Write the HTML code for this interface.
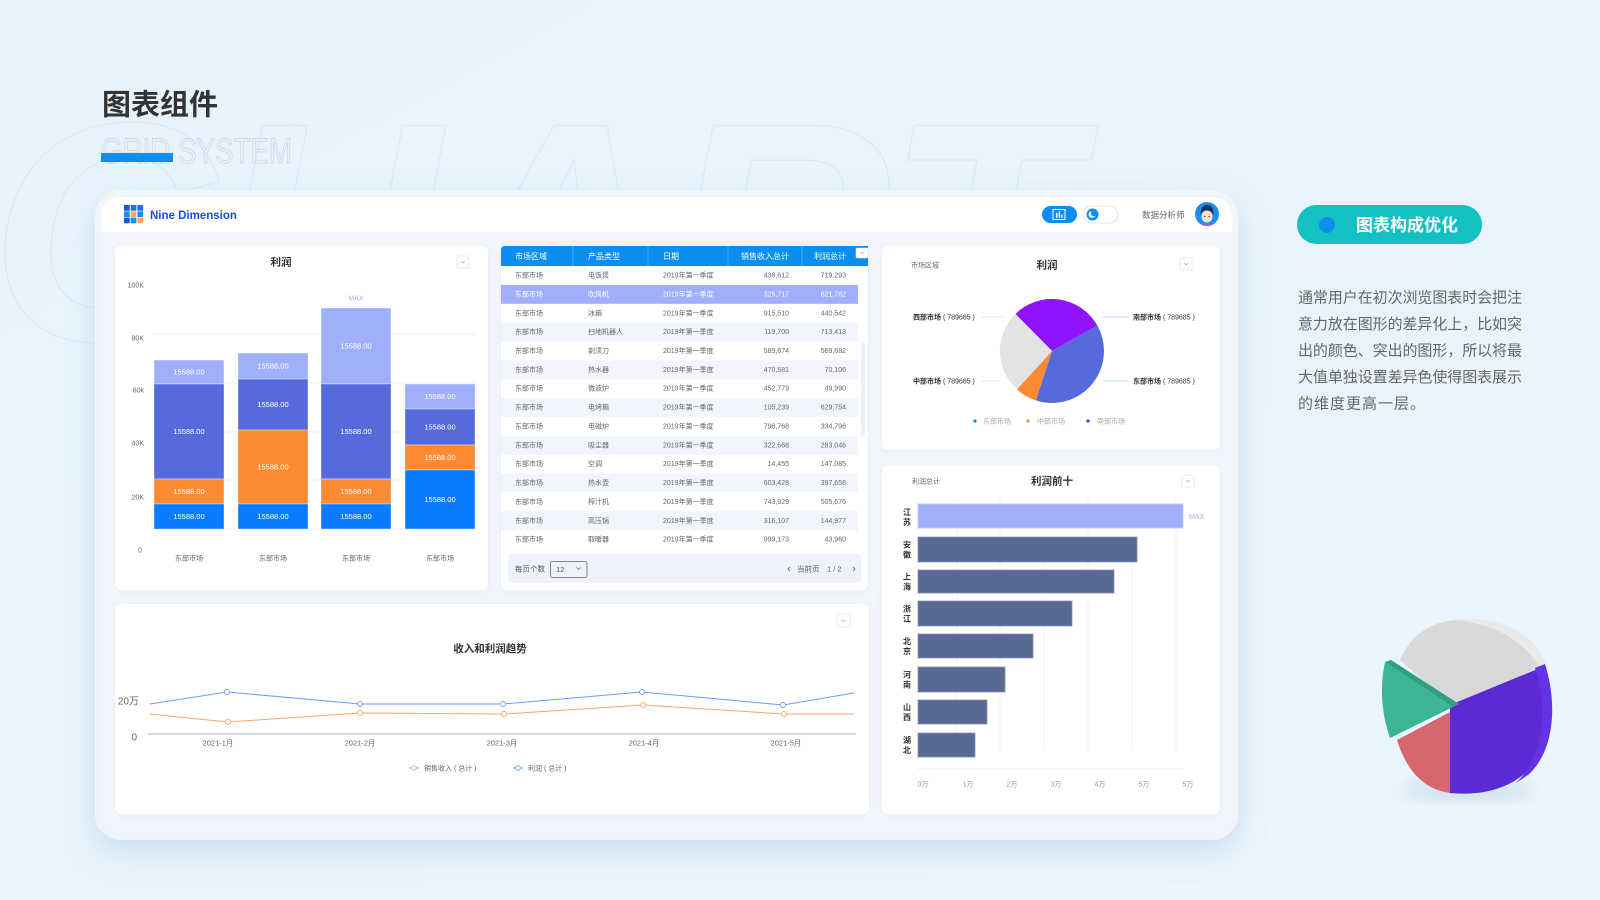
<!DOCTYPE html>
<html lang="zh">
<head>
<meta charset="utf-8">
<style>
html,body{margin:0;padding:0;width:1600px;height:900px;overflow:hidden;background:#e7f3fd;}
svg{display:block;}
text{font-family:"Liberation Sans","Noto Sans CJK SC",sans-serif;}
</style>
</head>
<body>
<svg width="1600" height="900" viewBox="0 0 1600 900" xmlns="http://www.w3.org/2000/svg">
<defs>
  <linearGradient id="bg" x1="0" y1="0" x2="1" y2="1">
    <stop offset="0" stop-color="#e6f3fd"/>
    <stop offset="1" stop-color="#eaf5fd"/>
  </linearGradient>
  <filter id="fs" x="-10%" y="-10%" width="120%" height="130%">
    <feDropShadow dx="0" dy="12" stdDeviation="14" flood-color="#7fa7cc" flood-opacity="0.28"/>
  </filter>
  <filter id="cs" x="-5%" y="-5%" width="110%" height="115%">
    <feDropShadow dx="0" dy="1" stdDeviation="3" flood-color="#8da4c8" flood-opacity="0.14"/>
  </filter>
  <filter id="blur8"><feGaussianBlur stdDeviation="8"/></filter>
  <clipPath id="avc"><circle cx="1207" cy="214" r="12"/></clipPath>
</defs>

<!-- background -->
<rect x="0" y="0" width="1600" height="900" fill="url(#bg)"/>
<text x="-10" y="340" font-size="312" font-weight="bold" font-style="italic" fill="none" stroke="#d6e6f3" stroke-width="1.2" opacity="0.8">CHART</text>

<!-- title -->
<text x="102" y="114.5" font-size="29" font-weight="bold" fill="#333">图表组件</text>
<text x="101" y="163" font-size="35" textLength="191" lengthAdjust="spacingAndGlyphs" fill="none" stroke="#cdd9e6" stroke-width="0.9">GRID SYSTEM</text>
<rect x="101" y="153" width="72" height="9" fill="#0a8ff0"/>

<!-- dashboard frame -->
<rect x="95" y="190" width="1143" height="650" rx="26" fill="#eef5fc" filter="url(#fs)"/>
<rect x="95" y="190" width="1143" height="650" rx="26" fill="#f0f5fc"/>
<rect x="101" y="197" width="1131" height="636" rx="20" fill="#f3f6fc"/>
<rect x="101" y="197" width="1131" height="35" rx="20" fill="#fff"/>
<rect x="101" y="214" width="1131" height="18" fill="#fff"/>

<!-- header: logo -->
<rect x="124" y="205" width="5.7" height="5.7" fill="#1a55d8"/>
<rect x="130.7" y="205" width="5.7" height="5.7" fill="#1a73e8"/>
<rect x="137.4" y="205" width="5.7" height="5.7" fill="#1a73e8"/>
<rect x="124" y="211.3" width="5.7" height="5.7" fill="#1a8ff0"/>
<rect x="130.7" y="211.3" width="5.7" height="5.7" fill="#f7a760"/>
<rect x="137.4" y="211.3" width="5.7" height="5.7" fill="#1a8ff0"/>
<rect x="124" y="217.6" width="5.7" height="5.7" fill="#1a55d8"/>
<rect x="130.7" y="217.6" width="5.7" height="5.7" fill="#1a8ff0"/>
<rect x="137.4" y="217.6" width="5.7" height="5.7" fill="#f7a760"/>
<text x="150" y="219" font-size="11.5" font-weight="bold" fill="#1a4fd6">Nine Dimension</text>

<!-- header: right -->
<rect x="1042" y="206" width="35" height="17" rx="8.5" fill="#0a8ff0"/>
<rect x="1053" y="209.5" width="12" height="10" fill="none" stroke="#fff" stroke-width="1"/>
<rect x="1056" y="213" width="1.3" height="5" fill="#fff"/>
<rect x="1058.6" y="211.5" width="1.3" height="6.5" fill="#fff"/>
<rect x="1061.2" y="214.5" width="1.3" height="3.5" fill="#fff"/>
<rect x="1083" y="206" width="35" height="17" rx="8.5" fill="#fff" stroke="#dcdcdc" stroke-width="0.8"/>
<circle cx="1092.5" cy="214.5" r="6" fill="#0a8ff0"/>
<circle cx="1092" cy="214.5" r="3.4" fill="#fff"/>
<circle cx="1093.8" cy="213.3" r="3" fill="#0a8ff0"/>
<text x="1142" y="218" font-size="8.5" fill="#666">数据分析师</text>
<circle cx="1207" cy="214" r="12" fill="#1c8ef0"/>
<g clip-path="url(#avc)">
  <rect x="1199" y="223" width="16" height="6" rx="3" fill="#8b5cf6"/>
  <ellipse cx="1207" cy="216.5" rx="5.5" ry="6" fill="#fde0d0"/>
  <path d="M1200.5,215 Q1200.5,205 1207,205 Q1214,205 1213.5,215 Q1211,209.5 1205,210.5 Q1202,211 1200.5,215 Z" fill="#1d2f55"/>
  <circle cx="1204.8" cy="216.5" r="0.7" fill="#333"/>
  <circle cx="1209.2" cy="216.5" r="0.7" fill="#333"/>
</g>

<!-- ================= Bar card ================= -->
<rect x="115" y="246" width="373" height="344" rx="6" fill="#fff" filter="url(#cs)"/>
<text x="281" y="265.7" font-size="10.5" font-weight="bold" fill="#333" text-anchor="middle">利润</text>
<rect x="457" y="256" width="12" height="12" rx="2" fill="#fff" stroke="#e6e6e6" stroke-width="0.8"/>
<path d="M461,261 L463,263 L465,261" fill="none" stroke="#aaa" stroke-width="0.7"/>
<g stroke="#f2f2f2" stroke-width="1">
  <line x1="154" y1="334" x2="476" y2="334"/>
  <line x1="154" y1="383" x2="476" y2="383"/>
  <line x1="154" y1="432" x2="476" y2="432"/>
  <line x1="154" y1="480" x2="476" y2="480"/>
  <line x1="154" y1="529" x2="476" y2="529"/>
</g>
<g font-size="7" fill="#666" text-anchor="end">
  <text x="144" y="287.5">100K</text>
  <text x="144" y="340.5">80K</text>
  <text x="144" y="392.5">60k</text>
  <text x="144" y="445.5">40K</text>
  <text x="144" y="499.5">20K</text>
  <text x="142" y="552.5">0</text>
</g>
<g stroke="#ffffff" stroke-opacity="0.45" stroke-width="0.8">
  <rect x="154" y="360" width="70" height="24" fill="#a0affc"/>
  <rect x="154" y="384" width="70" height="95" fill="#566bdb"/>
  <rect x="154" y="479" width="70" height="25" fill="#fa8b33"/>
  <rect x="154" y="504" width="70" height="25" fill="#0a7bff"/>
  <rect x="238" y="353" width="70" height="26" fill="#a0affc"/>
  <rect x="238" y="379" width="70" height="51" fill="#566bdb"/>
  <rect x="238" y="430" width="70" height="74" fill="#fa8b33"/>
  <rect x="238" y="504" width="70" height="25" fill="#0a7bff"/>
  <rect x="321" y="308" width="70" height="76" fill="#a0affc"/>
  <rect x="321" y="384" width="70" height="95" fill="#566bdb"/>
  <rect x="321" y="479" width="70" height="25" fill="#fa8b33"/>
  <rect x="321" y="504" width="70" height="25" fill="#0a7bff"/>
  <rect x="405" y="384" width="70" height="25" fill="#a0affc"/>
  <rect x="405" y="409" width="70" height="36" fill="#566bdb"/>
  <rect x="405" y="445" width="70" height="25" fill="#fa8b33"/>
  <rect x="405" y="470" width="70" height="59" fill="#0a7bff"/>
</g>
<g font-size="7.5" fill="#fff" text-anchor="middle">
  <text x="189" y="374.6">15588.00</text>
  <text x="189" y="434.1">15588.00</text>
  <text x="189" y="494.1">15588.00</text>
  <text x="189" y="519.1">15588.00</text>
  <text x="273" y="368.6">15588.00</text>
  <text x="273" y="407.1">15588.00</text>
  <text x="273" y="469.6">15588.00</text>
  <text x="273" y="519.1">15588.00</text>
  <text x="356" y="348.6">15588.00</text>
  <text x="356" y="434.1">15588.00</text>
  <text x="356" y="494.1">15588.00</text>
  <text x="356" y="519.1">15588.00</text>
  <text x="440" y="399.1">15588.00</text>
  <text x="440" y="429.6">15588.00</text>
  <text x="440" y="460.1">15588.00</text>
  <text x="440" y="502.1">15588.00</text>
</g>
<text x="356" y="300.5" font-size="7" fill="#a0affc" text-anchor="middle">MAX</text>
<g font-size="7" fill="#666" text-anchor="middle">
  <text x="189" y="560.5">东部市场</text>
  <text x="273" y="560.5">东部市场</text>
  <text x="356" y="560.5">东部市场</text>
  <text x="440" y="560.5">东部市场</text>
</g>

<!-- ================= Table card ================= -->
<rect x="501" y="246" width="367" height="344" rx="6" fill="#fff" filter="url(#cs)"/>
<path d="M501,250 Q501,246 505,246 L868,246 L868,266 L501,266 Z" fill="#0a8ff0"/>
<g stroke="#ffffff" stroke-opacity="0.35" stroke-width="0.8">
  <line x1="573" y1="246" x2="573" y2="266"/>
  <line x1="648" y1="246" x2="648" y2="266"/>
  <line x1="728" y1="246" x2="728" y2="266"/>
  <line x1="802" y1="246" x2="802" y2="266"/>
</g>
<g font-size="8" fill="#fff">
  <text x="515" y="258.8">市场区域</text>
  <text x="588" y="258.8">产品类型</text>
  <text x="663" y="258.8">日期</text>
  <text x="789" y="258.8" text-anchor="end">销售收入总计</text>
  <text x="846" y="258.8" text-anchor="end">利润总计</text>
</g>
<rect x="856" y="248" width="12" height="10" rx="1.5" fill="#fff" stroke="#e6e6e6" stroke-width="0.6"/>
<path d="M860,252 L862,254 L864,252" fill="none" stroke="#aaa" stroke-width="0.6"/>

<rect x="501" y="284.9" width="357" height="18.9" fill="#a0aefc"/>
<rect x="501" y="322.6" width="357" height="18.9" fill="#f2f5fe"/>
<rect x="501" y="360.4" width="357" height="18.9" fill="#f2f5fe"/>
<rect x="501" y="398.1" width="357" height="18.9" fill="#f2f5fe"/>
<rect x="501" y="435.8" width="357" height="18.9" fill="#f2f5fe"/>
<rect x="501" y="473.6" width="357" height="18.9" fill="#f2f5fe"/>
<rect x="501" y="511.3" width="357" height="18.9" fill="#f2f5fe"/>
<rect x="861" y="342" width="4" height="95" rx="2" fill="#eceff4"/>

<g font-size="7" fill="#666">
  <text x="515" y="277.5">东部市场</text><text x="588" y="277.5">电饭煲</text><text x="663" y="277.5">2019年第一季度</text><text x="789" y="277.5" text-anchor="end">438,612</text><text x="846" y="277.5" text-anchor="end">719,293</text>
  <g fill="#fff"><text x="515" y="296.4">东部市场</text><text x="588" y="296.4">吹风机</text><text x="663" y="296.4">2019年第一季度</text><text x="789" y="296.4" text-anchor="end">325,717</text><text x="846" y="296.4" text-anchor="end">821,782</text></g>
  <text x="515" y="315.3">东部市场</text><text x="588" y="315.3">冰箱</text><text x="663" y="315.3">2019年第一季度</text><text x="789" y="315.3" text-anchor="end">915,510</text><text x="846" y="315.3" text-anchor="end">440,542</text>
  <text x="515" y="334.1">东部市场</text><text x="588" y="334.1">扫地机器人</text><text x="663" y="334.1">2019年第一季度</text><text x="789" y="334.1" text-anchor="end">119,700</text><text x="846" y="334.1" text-anchor="end">713,413</text>
  <text x="515" y="353.0">东部市场</text><text x="588" y="353.0">剃须刀</text><text x="663" y="353.0">2019年第一季度</text><text x="789" y="353.0" text-anchor="end">589,674</text><text x="846" y="353.0" text-anchor="end">569,682</text>
  <text x="515" y="371.9">东部市场</text><text x="588" y="371.9">热水器</text><text x="663" y="371.9">2019年第一季度</text><text x="789" y="371.9" text-anchor="end">470,581</text><text x="846" y="371.9" text-anchor="end">70,106</text>
  <text x="515" y="390.7">东部市场</text><text x="588" y="390.7">微波炉</text><text x="663" y="390.7">2019年第一季度</text><text x="789" y="390.7" text-anchor="end">452,779</text><text x="846" y="390.7" text-anchor="end">49,990</text>
  <text x="515" y="409.6">东部市场</text><text x="588" y="409.6">电烤箱</text><text x="663" y="409.6">2019年第一季度</text><text x="789" y="409.6" text-anchor="end">105,239</text><text x="846" y="409.6" text-anchor="end">629,754</text>
  <text x="515" y="428.5">东部市场</text><text x="588" y="428.5">电磁炉</text><text x="663" y="428.5">2019年第一季度</text><text x="789" y="428.5" text-anchor="end">796,768</text><text x="846" y="428.5" text-anchor="end">334,796</text>
  <text x="515" y="447.4">东部市场</text><text x="588" y="447.4">吸尘器</text><text x="663" y="447.4">2019年第一季度</text><text x="789" y="447.4" text-anchor="end">322,668</text><text x="846" y="447.4" text-anchor="end">283,046</text>
  <text x="515" y="466.2">东部市场</text><text x="588" y="466.2">空调</text><text x="663" y="466.2">2019年第一季度</text><text x="789" y="466.2" text-anchor="end">14,455</text><text x="846" y="466.2" text-anchor="end">147,085</text>
  <text x="515" y="485.1">东部市场</text><text x="588" y="485.1">热水壶</text><text x="663" y="485.1">2019年第一季度</text><text x="789" y="485.1" text-anchor="end">603,428</text><text x="846" y="485.1" text-anchor="end">397,658</text>
  <text x="515" y="504.0">东部市场</text><text x="588" y="504.0">榨汁机</text><text x="663" y="504.0">2019年第一季度</text><text x="789" y="504.0" text-anchor="end">743,929</text><text x="846" y="504.0" text-anchor="end">505,676</text>
  <text x="515" y="522.8">东部市场</text><text x="588" y="522.8">高压锅</text><text x="663" y="522.8">2019年第一季度</text><text x="789" y="522.8" text-anchor="end">316,107</text><text x="846" y="522.8" text-anchor="end">144,977</text>
  <text x="515" y="541.7">东部市场</text><text x="588" y="541.7">取暖器</text><text x="663" y="541.7">2019年第一季度</text><text x="789" y="541.7" text-anchor="end">999,173</text><text x="846" y="541.7" text-anchor="end">43,960</text>
</g>
<rect x="508" y="554" width="353" height="29" rx="4" fill="#eef2fd"/>
<text x="515" y="571.6" font-size="7.5" fill="#555">每页个数</text>
<rect x="550.5" y="561.5" width="36.5" height="16" rx="2" fill="none" stroke="#666" stroke-width="0.8"/>
<text x="556" y="572" font-size="7.5" fill="#555">12</text>
<path d="M576.5,567.5 L578.5,569.5 L580.5,567.5" fill="none" stroke="#666" stroke-width="0.7"/>
<path d="M790,567 L788,569 L790,571" fill="none" stroke="#666" stroke-width="0.8"/>
<text x="797" y="571.6" font-size="7.5" fill="#555">当前页</text>
<text x="827" y="571.6" font-size="7.5" fill="#555">1 / 2</text>
<path d="M853,567 L855,569 L853,571" fill="none" stroke="#666" stroke-width="0.8"/>

<!-- ================= Pie card ================= -->
<rect x="882" y="246" width="338" height="204" rx="6" fill="#fff" filter="url(#cs)"/>
<text x="911" y="267.5" font-size="7" fill="#666">市场区域</text>
<text x="1047" y="268.7" font-size="10.5" font-weight="bold" fill="#333" text-anchor="middle">利润</text>
<rect x="1180" y="258" width="12" height="12" rx="2" fill="#fff" stroke="#e6e6e6" stroke-width="0.8"/>
<path d="M1184,263 L1186,265 L1188,263" fill="none" stroke="#aaa" stroke-width="0.7"/>
<path d="M1052,351 L1015.4,314.0 A52,52 0 0 1 1097.3,325.5 Z" fill="#9013fe"/>
<path d="M1052,351 L1097.3,325.5 A52,52 0 0 1 1035.8,400.4 Z" fill="#566bdb"/>
<path d="M1052,351 L1035.8,400.4 A52,52 0 0 1 1016.9,389.4 Z" fill="#fa8b33"/>
<path d="M1052,351 L1016.9,389.4 A52,52 0 0 1 1015.4,314.0 Z" fill="#e3e3e3"/>
<g stroke-width="1">
  <line x1="982" y1="317" x2="1003" y2="317" stroke="#e6e6e6"/>
  <line x1="982" y1="381" x2="1000" y2="381" stroke="#e6e6e6"/>
  <line x1="1103" y1="317" x2="1129" y2="317" stroke="#dcb8fd"/>
  <line x1="1103" y1="381" x2="1129" y2="381" stroke="#b9dcf8"/>
</g>
<g font-size="7" fill="#333">
  <text x="913" y="319.5"><tspan font-weight="bold">西部市场</tspan> ( 789685 )</text>
  <text x="913" y="383.5"><tspan font-weight="bold">中部市场</tspan> ( 789685 )</text>
  <text x="1133" y="319.5"><tspan font-weight="bold">南部市场</tspan> ( 789685 )</text>
  <text x="1133" y="383.5"><tspan font-weight="bold">东部市场</tspan> ( 789685 )</text>
</g>
<circle cx="975" cy="421" r="1.6" fill="#1677ff"/>
<circle cx="1028" cy="421" r="1.6" fill="#fa8b33"/>
<circle cx="1088" cy="421" r="1.6" fill="#9013fe"/>
<g font-size="7" fill="#aaa">
  <text x="983" y="423.5">东部市场</text>
  <text x="1037" y="423.5">中部市场</text>
  <text x="1097" y="423.5">南部市场</text>
</g>

<!-- ================= Top10 card ================= -->
<rect x="882" y="465" width="338" height="349" rx="6" fill="#fff" filter="url(#cs)"/>
<text x="912" y="483.5" font-size="7" fill="#666">利润总计</text>
<text x="1052" y="484.7" font-size="10.5" font-weight="bold" fill="#333" text-anchor="middle">利润前十</text>
<rect x="1182" y="475" width="12" height="12" rx="2" fill="#fff" stroke="#e6e6e6" stroke-width="0.8"/>
<path d="M1186,480 L1188,482 L1190,480" fill="none" stroke="#aaa" stroke-width="0.7"/>
<g stroke="#f3f3f3" stroke-width="1">
  <line x1="957" y1="497" x2="957" y2="750"/>
  <line x1="1000" y1="497" x2="1000" y2="750"/>
  <line x1="1044" y1="497" x2="1044" y2="750"/>
  <line x1="1088" y1="497" x2="1088" y2="750"/>
  <line x1="1132" y1="497" x2="1132" y2="750"/>
  <line x1="1176" y1="497" x2="1176" y2="750"/>
</g>
<line x1="918" y1="769" x2="1183" y2="769" stroke="#eeeeee" stroke-width="1"/>
<rect x="918" y="504" width="265" height="24" fill="#a0affc" stroke="#c2ccfd" stroke-width="0.8"/>
<g fill="#586a93" stroke="#8494b6" stroke-width="0.8">
  <rect x="918" y="537" width="219" height="25"/>
  <rect x="918" y="570" width="196" height="23"/>
  <rect x="918" y="601" width="154" height="25"/>
  <rect x="918" y="634" width="115" height="24"/>
  <rect x="918" y="667" width="87" height="25"/>
  <rect x="918" y="700" width="69" height="24"/>
  <rect x="918" y="733" width="57" height="24"/>
</g>
<text x="1189" y="519" font-size="7" fill="#a0affc">MAX</text>
<g font-size="8" font-weight="bold" fill="#333" text-anchor="middle">
  <text x="907" y="514.8">江</text><text x="907" y="524.8">苏</text>
  <text x="907" y="547.3">安</text><text x="907" y="557.3">徽</text>
  <text x="907" y="579.3">上</text><text x="907" y="589.3">海</text>
  <text x="907" y="611.3">浙</text><text x="907" y="621.3">江</text>
  <text x="907" y="643.8">北</text><text x="907" y="653.8">京</text>
  <text x="907" y="677.3">河</text><text x="907" y="687.3">南</text>
  <text x="907" y="709.8">山</text><text x="907" y="719.8">西</text>
  <text x="907" y="742.8">湖</text><text x="907" y="752.8">北</text>
</g>
<g font-size="7" fill="#999" text-anchor="middle">
  <text x="923" y="786.5">0万</text>
  <text x="968" y="786.5">1万</text>
  <text x="1012" y="786.5">2万</text>
  <text x="1056" y="786.5">3万</text>
  <text x="1100" y="786.5">4万</text>
  <text x="1144" y="786.5">5万</text>
  <text x="1188" y="786.5">5万</text>
</g>

<!-- ================= Line card ================= -->
<rect x="115" y="604" width="754" height="210" rx="6" fill="#fff" filter="url(#cs)"/>
<text x="490" y="652" font-size="10.5" font-weight="bold" fill="#333" text-anchor="middle">收入和利润趋势</text>
<rect x="837" y="614" width="13" height="13" rx="2" fill="#fff" stroke="#e6e6e6" stroke-width="0.8"/>
<path d="M841.5,619.5 L843.5,621.5 L845.5,619.5" fill="none" stroke="#aaa" stroke-width="0.7"/>
<text x="139" y="704.5" font-size="10" fill="#666" text-anchor="end">20万</text>
<text x="137" y="740.5" font-size="10" fill="#666" text-anchor="end">0</text>
<line x1="148" y1="734" x2="856" y2="734" stroke="#cccccc" stroke-width="1.6"/>
<polyline points="150,714 228,722 360,713 504,714 643,705 784,714 854,714" fill="none" stroke="#f7a76a" stroke-width="1"/>
<polyline points="150,704 227,692 360,704 503,704 642,692 783,705 854,693" fill="none" stroke="#6a9ef8" stroke-width="1"/>
<g fill="#fff" stroke="#f7a76a" stroke-width="0.9">
  <circle cx="228" cy="722" r="2.5"/><circle cx="360" cy="713" r="2.5"/><circle cx="504" cy="714" r="2.5"/><circle cx="643" cy="705" r="2.5"/><circle cx="784" cy="714" r="2.5"/>
</g>
<g fill="#fff" stroke="#6a9ef8" stroke-width="0.9">
  <circle cx="227" cy="692" r="2.5"/><circle cx="360" cy="704" r="2.5"/><circle cx="503" cy="704" r="2.5"/><circle cx="642" cy="692" r="2.5"/><circle cx="783" cy="705" r="2.5"/>
</g>
<g font-size="7.5" fill="#666" text-anchor="middle">
  <text x="218" y="745.5">2021-1月</text>
  <text x="360" y="745.5">2021-2月</text>
  <text x="502" y="745.5">2021-3月</text>
  <text x="644" y="745.5">2021-4月</text>
  <text x="786" y="745.5">2021-5月</text>
</g>
<line x1="409" y1="768" x2="419" y2="768" stroke="#f7a76a" stroke-width="1"/>
<circle cx="414" cy="768" r="2.3" fill="#fff" stroke="#f7a76a" stroke-width="0.9"/>
<text x="424" y="770.5" font-size="7" fill="#666">销售收入 ( 总计 )</text>
<line x1="513" y1="768" x2="523" y2="768" stroke="#6a9ef8" stroke-width="1"/>
<circle cx="518" cy="768" r="2.3" fill="#fff" stroke="#6a9ef8" stroke-width="0.9"/>
<text x="528" y="770.5" font-size="7" fill="#666">利润 ( 总计 )</text>

<!-- ================= Right panel ================= -->
<rect x="1297" y="205" width="185" height="39" rx="19.5" fill="#14c1c2"/>
<circle cx="1327" cy="225" r="8" fill="#0a8ff0"/>
<text x="1356" y="231" font-size="17" font-weight="bold" fill="#fff">图表构成优化</text>
<g font-size="15" fill="#666">
  <text x="1298" y="302.7" textLength="224" lengthAdjust="spacing">通常用户在初次浏览图表时会把注</text>
  <text x="1298" y="329.2" textLength="224" lengthAdjust="spacing">意力放在图形的差异化上，比如突</text>
  <text x="1298" y="355.7" textLength="224" lengthAdjust="spacing">出的颜色、突出的图形，所以将最</text>
  <text x="1298" y="382.2" textLength="224" lengthAdjust="spacing">大值单独设置差异色使得图表展示</text>
  <text x="1298" y="408.7" textLength="127" lengthAdjust="spacing">的维度更高一层。</text>
</g>

<!-- 3D pie -->
<ellipse cx="1468" cy="790" rx="65" ry="12" fill="#a9bfd3" opacity="0.35" filter="url(#blur8)"/>
<path d="M1400,660 C1410,636 1430,622 1455,620 C1490,618 1522,630 1540,667 L1453,707 Z" fill="#d9d9d9"/>
<path d="M1440,623 C1470,614 1512,618 1538,648 L1546,662 L1540,668 C1524,640 1494,624 1455,620 Z" fill="#e9e9e9"/>
<path d="M1450,705 L1540,668 C1553,700 1551,745 1528,770 C1510,789 1480,796 1450,793 Z" fill="#5a2bd4"/>
<path d="M1535,668 L1545,664 C1558,705 1554,752 1528,775 L1516,783 C1542,758 1550,712 1535,668 Z" fill="#6234e6"/>
<path d="M1450,712 L1397,740 Q1412,788 1450,793 Z" fill="#d6666f"/>
<path d="M1385,662 L1453,707 L1390,738 Q1377,700 1385,662 Z" fill="#3bb596"/>
<path d="M1385,662 L1391,660 L1459,704 L1453,707 Z" fill="#2f9f84"/>
</svg>
</body>
</html>
